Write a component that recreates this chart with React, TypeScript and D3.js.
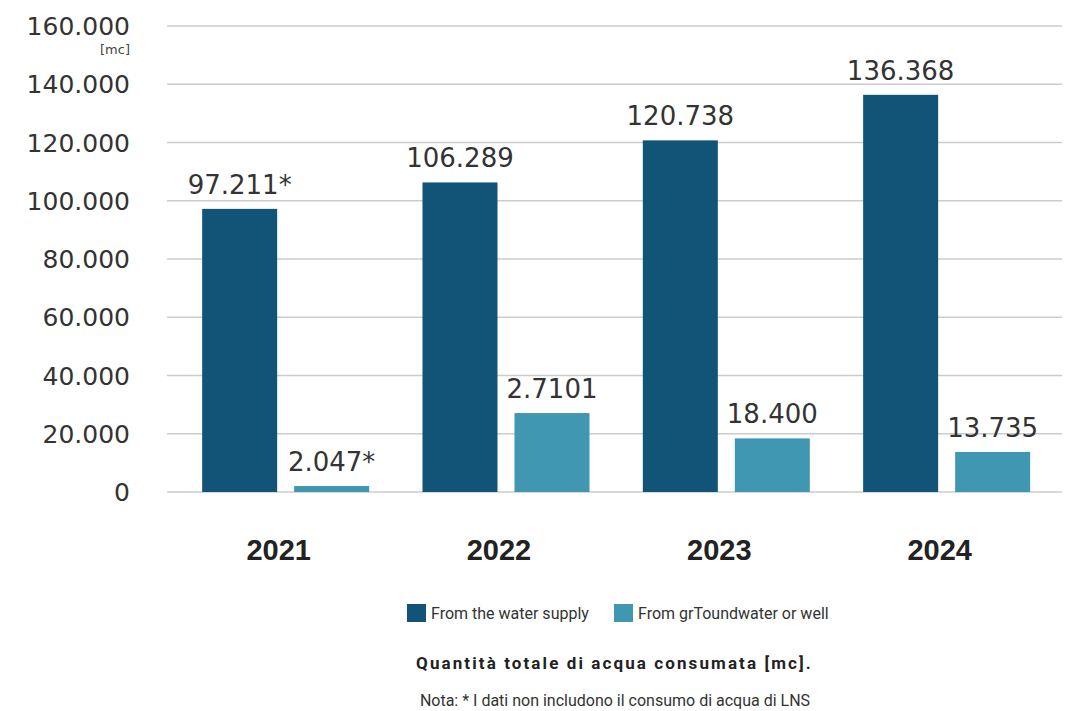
import React from "react";
import * as d3 from "d3";

const years = ["2021", "2022", "2023", "2024"];
const series = ["From the water supply", "From grToundwater or well"];
const supplyValues = [97211, 106289, 120738, 136368];
const wellValues = [2047, 27101, 18400, 13735];
const supplyLabels = ["97.211*", "106.289", "120.738", "136.368"];
const wellLabels = ["2.047*", "2.7101", "18.400", "13.735"];
const yTicks = [0, 20000, 40000, 60000, 80000, 100000, 120000, 140000, 160000];
const colors = ["#125477", "#3f97b1"];
const title = "Quantità totale di acqua consumata [mc].";
const note = "Nota: * I dati non includono il consumo di acqua di LNS";

const W = 1068;
const H = 711;

export default function App() {
  const y = d3.scaleLinear().domain([0, 160000]).range([492, 26]);
  const x0 = d3.scaleBand<string>().domain(years).range([175.5, 1056.8]).padding(0);
  const x1 = d3
    .scaleBand<string>()
    .domain(series)
    .range([-83.5, 83.5])
    .paddingInner(17 / 92)
    .paddingOuter(0);
  const fmt = (v: number) => (v === 0 ? "0" : d3.format(",")(v).replace(/,/g, "."));
  const numFont = "'DejaVu Sans', sans-serif";
  const data = [supplyValues, wellValues];
  const labels = [supplyLabels, wellLabels];

  return (
    <svg width={W} height={H} style={{ position: "absolute", left: 0, top: 0, background: "#fff" }}>
      {yTicks.map((t) => (
        <g key={t}>
          <line x1={167} x2={1062} y1={y(t)} y2={y(t)} stroke="#cccccc" strokeWidth={1.5} />
          <text
            x={130}
            y={y(t)}
            dy="0.36em"
            textAnchor="end"
            fontFamily={numFont}
            fontSize={25}
            fill="#333"
          >
            {fmt(t)}
          </text>
        </g>
      ))}
      <text x={130} y={54} textAnchor="end" fontFamily={numFont} fontSize={13} fill="#444">
        [mc]
      </text>
      {years.map((yr, i) => {
        const cx = (x0(yr) as number) + x0.bandwidth() / 2;
        return (
          <g key={yr}>
            {series.map((s, si) => {
              const v = data[si][i];
              const bx = cx + (x1(s) as number);
              return (
                <g key={s}>
                  <rect x={bx} y={y(v)} width={x1.bandwidth()} height={y(0) - y(v)} fill={colors[si]} />
                  <text
                    x={bx + x1.bandwidth() / 2}
                    y={y(v) - 15}
                    textAnchor="middle"
                    fontFamily={numFont}
                    fontSize={26}
                    fill="#333"
                  >
                    {labels[si][i]}
                  </text>
                </g>
              );
            })}
            <text
              x={cx - 7}
              y={560}
              textAnchor="middle"
              fontFamily="'Liberation Sans', Arial, sans-serif"
              fontWeight="bold"
              fontSize={29}
              fill="#222"
            >
              {yr}
            </text>
          </g>
        );
      })}
      {series.map((s, si) => {
        const lx = [407, 614][si];
        return (
          <g key={s}>
            <rect x={lx} y={604} width={19} height={18} fill={colors[si]} />
            <text x={lx + 24} y={619} fontFamily="Roboto, sans-serif" fontSize={16} fill="#333">
              {s}
            </text>
          </g>
        );
      })}
      <text
        x={614.5}
        y={669}
        textAnchor="middle"
        fontFamily="Roboto, sans-serif"
        fontWeight="bold"
        fontSize={17}
        letterSpacing={2.1}
        fill="#222"
      >
        {title}
      </text>
      <text x={615} y={706} textAnchor="middle" fontFamily="Roboto, sans-serif" fontSize={16} fill="#333">
        {note}
      </text>
    </svg>
  );
}
